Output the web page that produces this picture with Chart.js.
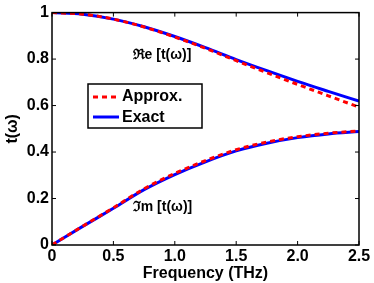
<!DOCTYPE html>
<html>
<head>
<meta charset="utf-8">
<script src="https://cdn.jsdelivr.net/npm/chart.js@4"></script>
<style>
  html, body { margin: 0; padding: 0; background: #fff; }
  #wrap { width: 374px; height: 283px; }
</style>
</head>
<body>
<div id="wrap"><canvas id="c"></canvas></div>
<script>
// frequency (THz)
const freq = [0, 0.25, 0.5, 0.75, 1.0, 1.25, 1.5, 1.75, 2.0, 2.25, 2.5];
// real part
const reExact  = [1.0, 0.993, 0.972, 0.939, 0.897, 0.849, 0.798, 0.750, 0.704, 0.661, 0.619];
const reApprox = [1.0, 0.993, 0.972, 0.938, 0.895, 0.846, 0.793, 0.741, 0.691, 0.642, 0.593];
// imaginary part
const imExact  = [0, 0.080, 0.158, 0.238, 0.303, 0.358, 0.405, 0.438, 0.462, 0.478, 0.488];
const imApprox = [0, 0.081, 0.160, 0.242, 0.308, 0.363, 0.410, 0.443, 0.466, 0.481, 0.491];

const xTicks = [0, 0.5, 1, 1.5, 2, 2.5];
const yTicks = [0, 0.2, 0.4, 0.6, 0.8, 1];

const blue = '#0000ff';
const red = '#ff0000';
const font = "'Liberation Sans', Arial, sans-serif";

function pts(ys) {
  return freq.map((f, i) => ({x: f, y: ys[i]}));
}

function line(label, ys, color, dashed) {
  return {
    label: label,
    data: pts(ys),
    borderColor: color,
    borderWidth: 3,
    borderDash: dashed ? [5, 4] : [],
    pointRadius: 0,
    fill: false,
    cubicInterpolationMode: 'monotone',
    order: dashed ? 0 : 1
  };
}

// matlab style box, inner ticks, legend and labels
const boxPlugin = {
  id: 'box',
  afterDraw(chart) {
    const ctx = chart.ctx;
    const a = chart.chartArea;
    const xs = chart.scales.x, ys = chart.scales.y;
    ctx.save();
    ctx.strokeStyle = '#000';
    ctx.lineWidth = 1.5;
    ctx.strokeRect(a.left, a.top, a.right - a.left, a.bottom - a.top);
    ctx.lineWidth = 1;
    ctx.beginPath();
    xTicks.forEach(v => {
      const px = xs.getPixelForValue(v);
      ctx.moveTo(px, a.bottom); ctx.lineTo(px, a.bottom - 4);
      ctx.moveTo(px, a.top); ctx.lineTo(px, a.top + 4);
    });
    yTicks.forEach(v => {
      const py = ys.getPixelForValue(v);
      ctx.moveTo(a.left, py); ctx.lineTo(a.left + 4, py);
      ctx.moveTo(a.right, py); ctx.lineTo(a.right - 4, py);
    });
    ctx.stroke();

    // curve labels
    ctx.fillStyle = '#000';
    ctx.textAlign = 'center';
    ctx.textBaseline = 'middle';
    ctx.font = "bold 14px " + font + ", 'DejaVu Serif'";
    ctx.fillText('ℜe [t(ω)]', xs.getPixelForValue(0.896), ys.getPixelForValue(0.816));
    ctx.fillText('ℑm [t(ω)]', xs.getPixelForValue(0.9), ys.getPixelForValue(0.161));

    // legend
    const lx = 88, ly = 84, lw = 114, lh = 44;
    ctx.fillStyle = '#fff';
    ctx.fillRect(lx, ly, lw, lh);
    ctx.lineWidth = 1.5;
    ctx.strokeStyle = '#000';
    ctx.strokeRect(lx, ly, lw, lh);
    ctx.lineWidth = 3;
    ctx.strokeStyle = red;
    ctx.setLineDash([5, 4]);
    ctx.beginPath(); ctx.moveTo(93, 97); ctx.lineTo(119, 97); ctx.stroke();
    ctx.setLineDash([]);
    ctx.strokeStyle = blue;
    ctx.beginPath(); ctx.moveTo(93, 117); ctx.lineTo(119, 117); ctx.stroke();
    ctx.fillStyle = '#000';
    ctx.textAlign = 'left';
    ctx.font = 'bold 16px ' + font;
    ctx.fillText('Approx.', 122, 97);
    ctx.fillText('Exact', 122, 118);
    ctx.restore();
  }
};

new Chart(document.getElementById('c'), {
  type: 'line',
  data: {
    datasets: [
      line('Exact', reExact, blue, false),
      line('Approx.', reApprox, red, true),
      line('Exact Im', imExact, blue, false),
      line('Approx. Im', imApprox, red, true)
    ]
  },
  options: {
    responsive: true,
    maintainAspectRatio: false,
    animation: false,
    layout: { padding: { top: 6, right: 15, left: 3, bottom: 0 } },
    plugins: { legend: { display: false }, tooltip: { enabled: false } },
    scales: {
      x: {
        type: 'linear', min: 0, max: 2.5,
        afterBuildTicks: s => { s.ticks = xTicks.map(v => ({value: v})); },
        afterFit: s => { s.height = 38; },
        grid: { display: false, drawTicks: false },
        border: { display: false },
        ticks: { color: '#000', padding: 2, font: { family: font, size: 16, weight: 'bold' }, maxRotation: 0 },
        title: { display: true, text: 'Frequency (THz)', color: '#000', padding: { top: 0, bottom: 0 },
                 font: { family: font, size: 16, weight: 'bold' } }
      },
      y: {
        min: 0, max: 1,
        afterBuildTicks: s => { s.ticks = yTicks.map(v => ({value: v})); },
        afterFit: s => { s.width = 49; },
        grid: { display: false, drawTicks: false },
        border: { display: false },
        ticks: { color: '#000', padding: 3, font: { family: font, size: 16, weight: 'bold' },
                 callback: v => String(v) },
        title: { display: true, text: 't(ω)', color: '#000', padding: { top: 0, bottom: 0 },
                 font: { family: font, size: 16, weight: 'bold' } }
      }
    }
  },
  plugins: [boxPlugin]
});
</script>
</body>
</html>
